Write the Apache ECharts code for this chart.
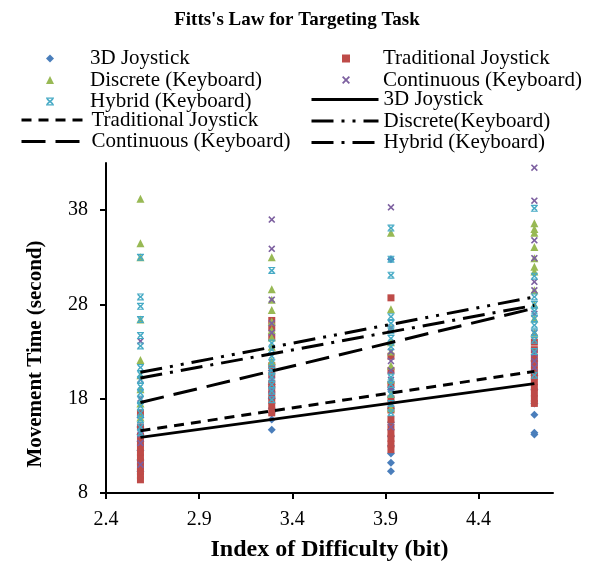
<!DOCTYPE html>
<html>
<head>
<meta charset="utf-8">
<script src="https://cdn.jsdelivr.net/npm/echarts@6/dist/echarts.min.js"></script>
<style>html,body{margin:0;padding:0;background:#fff}#c{width:594px;height:565px}</style>
</head>
<body>
<div id="c"></div>
<script>
// Index of difficulty levels (x)
const xLevels = [2.585, 3.29, 3.93, 4.70];
const xTicks = [2.4, 2.9, 3.4, 3.9, 4.4];
const yTicks = [8, 18, 28, 38];

// Movement times per x level (seconds)
const joystick3D = [
  [10.3, 11.5, 12.5, 13.5, 14.2, 15, 16],
  [14.7, 15.8, 16.5, 17, 18, 19.5, 21],
  [10.3, 11.2, 12.2, 13, 14, 15.5, 17, 19, 32.8],
  [14.2, 14.4, 16.3, 17.5, 19, 20.5, 22]
];
const traditional = [
  [9.4, 9.8, 10.3, 10.8, 11.3, 11.8, 12.3, 12.8, 13.3, 14, 15, 16.5],
  [16.5, 17.2, 17.8, 18.4, 19, 19.6, 20.5, 21.5, 24.5, 25.5, 26.3],
  [12.6, 13.2, 13.8, 14.4, 15, 15.8, 16.8, 18, 19.5, 21, 22.5, 28.7],
  [17.5, 18, 18.6, 19.2, 19.8, 20.4, 21, 21.7, 22.4, 23.2, 24]
];
const discrete = [
  [39.2, 34.5, 33.0, 26.4, 22.1, 20.5, 19, 17.5, 16],
  [33.0, 29.6, 28.5, 27.4, 26.2, 25.3, 24.5, 23.5, 22],
  [35.6, 27.5, 25.5, 24, 23, 21.5, 20, 18.5, 17],
  [36.6, 36, 35.6, 34.1, 32.9, 32.0, 31.5, 29.5, 28, 26.5, 25]
];
const continuous = [
  [24.1, 20, 18, 15, 14.2, 13.3, 11],
  [37, 33.9, 28.5, 26, 25, 20, 19, 18.3],
  [38.3, 25.5, 23, 22, 21, 20, 19, 17.5, 15],
  [42.5, 39, 34.8, 32.9, 30.4, 29.5, 27, 25, 22.8, 22, 21.3]
];
const hybrid = [
  [33.0, 28.8, 27.8, 26.4, 24.7, 23.6, 21.3, 20.6, 20, 19.3, 18.6, 17.9, 17.2, 16.5, 15.8, 15, 14.4],
  [31.6, 23.9, 23.2, 22.5, 21.8, 21, 20.3, 19.5, 18.8, 17.9],
  [36.1, 32.8, 31.1, 26.7, 26, 25.2, 24.4, 23.5, 20.3, 19.5, 18.5, 17.5, 16.5],
  [38.2, 31.0, 28.8, 28, 27.3, 26.5, 25.8, 25, 24.2, 23, 20.5]
];

// Fitted lines: [y at first level, y at last level]
const fit3D = [13.9, 19.6];
const fitTraditional = [14.6, 20.9];
const fitDiscrete = [20.8, 28.8];
const fitContinuous = [17.6, 27.6];
const fitHybrid = [20.2, 27.9];

function pts(cols) {
  const out = [];
  cols.forEach((ys, i) => ys.forEach(y => out.push([xLevels[i], y])));
  return out;
}
function fitPts(f) {
  return [[xLevels[0], f[0]], [xLevels[xLevels.length - 1], f[1]]];
}

const xPath = 'path://M0,1.6L1.6,0L5,3.4L8.4,0L10,1.6L6.6,5L10,8.4L8.4,10L5,6.6L1.6,10L0,8.4L3.4,5Z';
const starPath = 'path://M0,0H10V1.6H0ZM0,8.4H10V10H0ZM0.6,2.4L2.2,1.2L5,3.6L7.8,1.2L9.4,2.4L6.6,5L9.4,7.6L7.8,8.8L5,6.4L2.2,8.8L0.6,7.6L3.4,5Z';

const font = 'Liberation Serif';
const lineW = 3;

function scatter(name, data, color, symbol, size) {
  return { name, type: 'scatter', data: pts(data), symbol, symbolSize: size,
    itemStyle: { color, opacity: 1 }, z: 2 };
}
function fitLine(name, data, dash) {
  return { name, type: 'line', data: fitPts(data), symbol: 'none', z: 5,
    lineStyle: { color: '#000', width: lineW, type: dash },
    itemStyle: { color: 'rgba(0,0,0,0)', borderColor: 'rgba(0,0,0,0)' } };
}

const rowTop = 43, rowH = 20.5;
function legendBlock(left, row, iconW, padL, names) {
  return { orient: 'vertical', left, top: rowTop + row * rowH, itemWidth: iconW, itemHeight: 8,
    itemGap: rowH - 20,
    lineStyle: { width: 3 },
    textStyle: { fontFamily: font, fontSize: 21, color: '#000', lineHeight: 20, padding: [0, 0, 0, padL] },
    data: names };
}

const chart = echarts.init(document.getElementById('c'));
chart.setOption({
  animation: false,
  backgroundColor: '#fff',
  title: { text: "Fitts's Law for Targeting Task", left: 'center', top: 6,
    textStyle: { fontFamily: font, fontSize: 19, fontWeight: 'bold', color: '#000' } },
  legend: [
    legendBlock(41, 0, 8, 31, ['3D Joystick', 'Discrete (Keyboard)', 'Hybrid (Keyboard)']),
    legendBlock(15, 3, 65, 0, ['Traditional Joystick ', 'Continuous (Keyboard) ']),
    legendBlock(337, 0, 8, 28, ['Traditional Joystick', 'Continuous (Keyboard)']),
    legendBlock(305, 2, 67, 0, ['3D Joystick ', 'Discrete(Keyboard)', 'Hybrid (Keyboard) '])
  ],
  grid: { left: 106, right: 41, top: 163, bottom: 72, containLabel: false, outerBoundsMode: 'none' },
  xAxis: {
    type: 'value', min: 2.4, max: 4.8, interval: 0.5,
    name: 'Index of Difficulty (bit)', nameLocation: 'middle', nameGap: 45,
    nameTextStyle: { fontFamily: font, fontSize: 24, fontWeight: 'bold', color: '#000' },
    axisLine: { lineStyle: { color: '#000', width: 2 } },
    axisTick: { show: true, length: 6, lineStyle: { color: '#000', width: 2 }, customValues: xTicks },
    axisLabel: { fontFamily: font, fontSize: 20, color: '#000', margin: 17, customValues: xTicks },
    splitLine: { show: false }
  },
  yAxis: {
    type: 'value', min: 8, max: 43, interval: 10,
    name: 'Movement Time (second)', nameLocation: 'middle', nameGap: 60, nameRotate: 90,
    nameTextStyle: { fontFamily: font, fontSize: 21, fontWeight: 'bold', color: '#000', padding: [0, 52, 0, 0] },
    axisLine: { show: true, lineStyle: { color: '#000', width: 2 } },
    axisTick: { show: true, length: 6, lineStyle: { color: '#000', width: 2 }, customValues: yTicks },
    axisLabel: { fontFamily: font, fontSize: 20, color: '#000', margin: 18, customValues: yTicks },
    splitLine: { show: false }
  },
  series: [
    scatter('3D Joystick', joystick3D, '#4A7EBB', 'diamond', 8),
    scatter('Traditional Joystick', traditional, '#BE4B48', 'rect', 7),
    scatter('Discrete (Keyboard)', discrete, '#98B954', 'triangle', 8),
    scatter('Continuous (Keyboard)', continuous, '#7D60A0', xPath, 7),
    scatter('Hybrid (Keyboard)', hybrid, '#46AAC5', starPath, 7),
    fitLine('3D Joystick ', fit3D, 'solid'),
    fitLine('Traditional Joystick ', fitTraditional, [10, 7]),
    fitLine('Discrete(Keyboard)', fitDiscrete, [22, 8, 3, 8, 3, 8]),
    fitLine('Continuous (Keyboard) ', fitContinuous, [24, 10]),
    fitLine('Hybrid (Keyboard) ', fitHybrid, [22, 8, 3, 8])
  ]
});
</script>
</body>
</html>
